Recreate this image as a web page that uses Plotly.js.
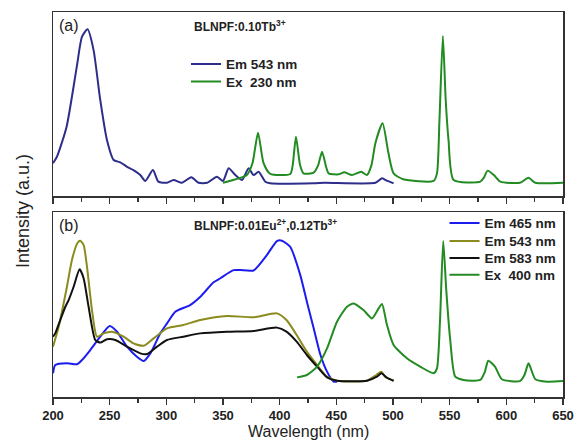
<!DOCTYPE html>
<html><head><meta charset="utf-8">
<script src="https://cdn.plot.ly/plotly-3.0.1.min.js"></script>
<style>html,body{margin:0;padding:0;background:#fff}#c{width:575px;height:440px}</style>
</head><body><div id="c"></div>
<script>
// Panel (a): BLNPF:0.10Tb3+
const aEmX = [200,203.5,212,221,225.6,230.5,235.8,241.7,247.6,253.5,259.4,265.3,271,277,281.4,288.2,293,300.6,306.4,313.8,322,328.5,335.9,344.7,350,355,360.9,366.8,372.6,377,381.4,387.3,391.7,430,440,484.6,490.3,495,500.5];
const aEmY = [17.8,21.4,37.7,70.3,86.6,90.6,79.3,52.2,30.4,19.6,18.3,15.9,14.1,11.4,8.2,14.1,7.8,7.2,8.7,7.2,10.2,7.2,7.2,10.5,8.2,15.1,11.4,8.7,15.1,11.4,13.2,7.8,6.9,6.9,7.2,7.2,9.6,8.2,6.9];
const aExX = [350,371,376,380.9,385.8,391.7,409.4,411.5,414.4,418,421,430,434,437.4,441,443.2,452,457,463.8,472,477,481,484.4,490.8,496,500.5,509,535.8,538.8,541,544,546.5,549,553.5,577,580,583.5,589,594.7,612,619.6,625.6,650];
const aExY = [7.2,11.4,17.8,34.4,17.9,12.0,12.0,16.8,32.2,16.8,12.3,12.7,16.8,24.1,15.8,12.3,11.8,12.9,11.4,13.2,11.4,16.8,28.6,39.5,23.2,12.3,9.1,8.2,12.3,41.3,87.0,52.2,30.4,8.7,7.8,9.8,13.8,11.4,7.8,7.2,9.9,7.2,7.2];

// Panel (b): BLNPF:0.01Eu2+,0.12Tb3+
const b465X = [200,202,212.3,221.2,225.6,232.9,241.7,250,256.5,265.3,274,280,285.9,294.7,300.6,307.9,321,330,341.7,347.6,359.4,365.3,377,388.8,397.6,402,409.4,418.2,424,430,436,441.8,447.6,450.6];
const b465Y = [12.8,17.3,18.2,17.7,20.0,25.4,32.6,38.4,35.3,27.2,21.8,19.5,23.6,34.4,39.8,46.1,49.7,54.2,62.0,64.2,68.6,68.6,68.4,76.8,84.3,84.5,81.1,65.9,51.5,37.1,22.7,13.7,8.3,8.3];
const b543X = [200,205,212.3,216.7,221.7,224,227,230,234.4,238.8,244.6,252,262.3,271,280,288.8,300.6,315,330,353.5,377,397.6,406,415,424,433,441.8,450.6,477,485.2,489.7,493,500.5];
const b543Y = [27.2,38.0,59.6,74.1,83.4,84.5,82.2,70.4,47.0,32.6,34.4,35.3,32.6,29.0,27.7,31.7,37.1,38.9,41.6,43.8,43.1,45.2,41.6,33.5,24.5,17.3,11.0,8.8,8.8,11.9,13.7,11.0,8.8];
const b583X = [200,202,206.4,210.9,213.8,218.2,223.5,227,231.4,237.3,241.7,247.6,255,265.3,277,283,291.8,300.6,315,330,353.5,377,397.6,406,415,424,433,441.8,450.6,477,485.8,489.7,494.7,500.5];
const b583Y = [32.6,34.4,41.6,48.8,52.4,59.6,69.0,64.2,48.8,30.8,29.4,31.2,30.8,27.2,23.6,23.2,27.2,30.8,32.6,34.4,35.3,35.7,37.5,35.3,29.9,22.7,16.4,10.6,8.8,8.8,11.0,12.8,10.4,8.8];
const b400X = [415.3,424,433,441.8,450.6,459.4,465.3,474,481.4,487.3,490.3,494.7,500.5,512.3,524,535.8,538.8,541.5,544.3,547,550.5,554.9,562.3,577,581,584.1,590,596,612,616,619.6,625.6,636,650];
const b400Y = [10.6,11.9,16.4,26.3,40.7,48.8,50.6,47.0,42.5,47.9,50.3,38.9,28.1,20.9,16.4,12.8,15.5,41.6,84.3,57.8,30.8,11.0,9.2,9.2,13.5,19.6,16.4,9.6,8.6,11.9,18.2,9.6,8.3,8.6];

const tickVals = [200,250,300,350,400,450,500,550,600,650];
const tickText = ['200','250','300','350','400','450','500','550','600','650'];
const namesA = ['Em 543 nm','Ex  230 nm'];
const namesB = ['Em 465 nm','Em 543 nm','Em 583 nm','Ex  400 nm'];

const ln = (c)=>({color:c,width:2,shape:'spline',smoothing:0.6});
const traces = [
  {x:aEmX,y:aEmY,name:namesA[0],mode:'lines',line:ln('#2d2d8c'),xaxis:'x',yaxis:'y',legend:'legend',showlegend:true},
  {x:aExX,y:aExY,name:namesA[1],mode:'lines',line:ln('#228b22'),xaxis:'x',yaxis:'y',legend:'legend2',showlegend:true},
  {x:b465X,y:b465Y,name:namesB[0],mode:'lines',line:ln('#1c1cf0'),xaxis:'x2',yaxis:'y2',legend:'legend3',showlegend:true},
  {x:b543X,y:b543Y,name:namesB[1],mode:'lines',line:ln('#8b8b1e'),xaxis:'x2',yaxis:'y2',legend:'legend4',showlegend:true},
  {x:b583X,y:b583Y,name:namesB[2],mode:'lines',line:ln('#111111'),xaxis:'x2',yaxis:'y2',legend:'legend5',showlegend:true},
  {x:b400X,y:b400Y,name:namesB[3],mode:'lines',line:ln('#228b22'),xaxis:'x2',yaxis:'y2',legend:'legend6',showlegend:true}
];
const F = 'Liberation Sans, Arial, sans-serif';
const xa = (show)=>({range:[200,650],domain:[0,1],showline:true,linecolor:'#333',linewidth:1.5,mirror:true,
  ticks:'outside',ticklen:6,tickwidth:1.5,tickcolor:'#333',tickvals:tickVals,ticktext:tickText,showticklabels:show,
  tickfont:{family:F,size:13,color:'#222',weight:'bold'},showgrid:false,zeroline:false,
  minor:{tickvals:[225,275,325,375,425,475,525,575,625],ticks:'outside',ticklen:4,tickwidth:1.5,tickcolor:'#333'}});
const ya = (dom)=>({range:[0,100],domain:dom,showline:true,linecolor:'#333',linewidth:1.5,mirror:true,
  ticks:'',showticklabels:false,showgrid:false,zeroline:false});
const leg = (xpx,ypx)=>({x:(xpx-53)/510,y:(397-ypx)/385,xanchor:'left',yanchor:'middle',bgcolor:'rgba(0,0,0,0)',
  font:{family:F,size:13.5,weight:'bold',color:'#222'},itemwidth:30});
const layout = {
  width:575,height:440,margin:{l:53,r:12,t:12,b:43},paper_bgcolor:'#fff',plot_bgcolor:'#fff',
  font:{family:F,color:'#222'},showlegend:true,
  xaxis:Object.assign(xa(false),{anchor:'y'}),
  yaxis:Object.assign(ya([0.522,1]),{anchor:'x'}),
  xaxis2:Object.assign(xa(true),{anchor:'y2'}),
  yaxis2:Object.assign(ya([0,0.4805]),{anchor:'x2'}),
  legend:leg(186,64.3),
  legend2:leg(186,81.7),
  legend3:leg(444.5,223.3),
  legend4:leg(444.5,241.3),
  legend5:leg(444.5,258.3),
  legend6:leg(444.5,275),
  annotations:[
    {text:'(a)',xref:'paper',yref:'paper',x:(57-53)/510,y:(397-25)/385,xanchor:'left',yanchor:'middle',showarrow:false,font:{family:F,size:16,color:'#222'}},
    {text:'BLNPF:0.10Tb<sup>3+</sup>',xref:'paper',yref:'paper',x:(191.7-53)/510,y:(397-26)/385,xanchor:'left',yanchor:'middle',showarrow:false,font:{family:F,size:12,color:'#222',weight:'bold'}},
    {text:'(b)',xref:'paper',yref:'paper',x:(57-53)/510,y:(397-225)/385,xanchor:'left',yanchor:'middle',showarrow:false,font:{family:F,size:16,color:'#222'}},
    {text:'BLNPF:0.01Eu<sup>2+</sup>,0.12Tb<sup>3+</sup>',xref:'paper',yref:'paper',x:(191.7-53)/510,y:(397-225)/385,xanchor:'left',yanchor:'middle',showarrow:false,font:{family:F,size:12,color:'#222',weight:'bold'}},
    {text:'Intensity (a.u.)',xref:'paper',yref:'paper',x:(23-53)/510,y:(397-211)/385,xanchor:'center',yanchor:'middle',textangle:-90,showarrow:false,font:{family:F,size:18,color:'#222'}},
    {text:'Wavelength (nm)',xref:'paper',yref:'paper',x:(308-53)/510,y:(397-432)/385,xanchor:'center',yanchor:'middle',showarrow:false,font:{family:F,size:16,color:'#222'}}
  ]
};
Plotly.newPlot('c',traces,layout,{displayModeBar:false,staticPlot:true});
</script></body></html>
